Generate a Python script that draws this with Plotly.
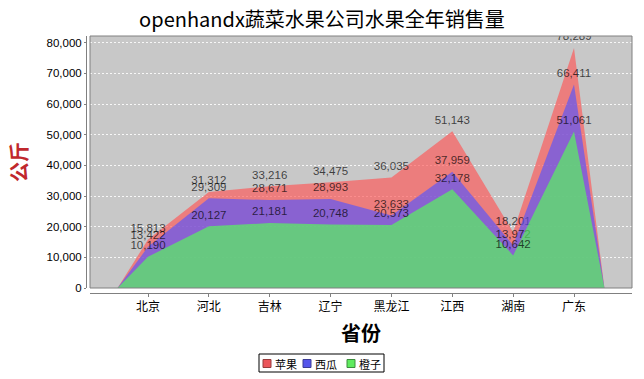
import plotly.graph_objects as go

categories = ["北京", "河北", "吉林", "辽宁", "黑龙江", "江西", "湖南", "广东"]
series_names = ["苹果", "西瓜", "橙子"]
apple = [15813, 31312, 33216, 34475, 36035, 51143, 18201, 78289]
watermelon = [13422, 29309, 28671, 28993, 23633, 37959, 13972, 66411]
orange = [10190, 20127, 21181, 20748, 20573, 32178, 10642, 51061]
y_ticks = [0, 10000, 20000, 30000, 40000, 50000, 60000, 70000, 80000]

series_values = [apple, watermelon, orange]
base_colors = ["rgb(235,85,90)", "rgb(85,85,235)", "rgb(95,235,95)"]
fill_colors = ["rgba(255,85,85,0.65)", "rgba(85,85,255,0.65)", "rgba(85,255,85,0.65)"]
edge_colors = ["rgb(150,60,60)", "rgb(60,60,150)", "rgb(60,140,60)"]

NUM_FONT = "Liberation Sans, Arial, sans-serif"
CJK_FONT = "Noto Sans CJK SC, sans-serif"

W, H = 644, 379
ML, MR, MT, MB = 86, 12, 36, 86
PW, PH = W - ML - MR, H - MT - MB


def px(xp):
    return (xp - ML) / PW


def py(yp):
    return (H - MB - yp) / PH


n = len(categories)
idx = list(range(n))
# taper: area starts/ends at zero half a category outside the first/last category
xs = [-0.5] + idx + [n - 0.5]

fig = go.Figure()
for name, vals, fc in zip(series_names, series_values, fill_colors):
    fig.add_trace(go.Scatter(
        x=xs,
        y=[0] + vals + [0],
        text=[""] + [f"{v:,}" for v in vals] + [""],
        mode="markers+text",
        fill="tozeroy",
        fillcolor=fc,
        line=dict(width=0),
        marker=dict(size=6, color="rgba(0,0,0,0)"),
        textposition="top center",
        textfont=dict(family=NUM_FONT, size=11.5, color="rgba(0,0,0,0.7)"),
        showlegend=False,
        hoverinfo="skip",
        name=name,
    ))

# compact legend box (as in the reference)
shapes = [dict(
    type="rect", xref="x domain", yref="y domain", x0=0, x1=1, y0=0, y1=1,
    line=dict(color="#808080", width=1), layer="above",
)]
shapes.append(dict(
    type="rect", xref="paper", yref="paper",
    x0=px(259), x1=px(384), y0=py(372), y1=py(354),
    line=dict(color="black", width=1), fillcolor="white", layer="above",
))
annotations = []
item_x = [263, 303, 347]
for name, bc, ec, x0 in zip(series_names, base_colors, edge_colors, item_x):
    shapes.append(dict(
        type="rect", xref="paper", yref="paper",
        x0=px(x0), x1=px(x0 + 8), y0=py(367.5), y1=py(359.5),
        line=dict(color=ec, width=1), fillcolor=bc, layer="above",
    ))
    annotations.append(dict(
        text=name, xref="paper", yref="paper", x=px(x0 + 10), y=py(363.5),
        xanchor="left", yanchor="middle", showarrow=False,
        font=dict(family=CJK_FONT, size=11, color="black"),
    ))

fig.update_layout(
    width=W, height=H,
    margin=dict(l=ML, r=MR, t=MT, b=MB),
    paper_bgcolor="white",
    plot_bgcolor="#C8C8C8",
    showlegend=False,
    title=dict(
        text="openhandx蔬菜水果公司水果全年销售量",
        x=0.5, xref="container", xanchor="center",
        y=1 - 20 / H, yref="container", yanchor="middle",
        font=dict(family=CJK_FONT, size=20, color="black"),
    ),
    xaxis=dict(
        domain=[4 / PW, 1], anchor="free", position=0,
        range=[-0.953, 7.953],
        tickmode="array", tickvals=idx, ticktext=categories,
        tickfont=dict(family=CJK_FONT, size=12, color="black"),
        ticks="outside", ticklen=3, tickcolor="#808080",
        showline=True, linecolor="#808080", linewidth=1,
        showgrid=False, zeroline=False,
        title=dict(text="省份", font=dict(family=CJK_FONT, size=20, color="black", weight="bold"), standoff=13),
    ),
    yaxis=dict(
        domain=[5 / PH, 1], anchor="free", position=0,
        range=[0, 78289 * 1.05],
        tickmode="array", tickvals=y_ticks, ticktext=[f"{v:,}" for v in y_ticks],
        tickfont=dict(family=NUM_FONT, size=11.5, color="black"),
        ticks="outside", ticklen=2, tickcolor="#808080",
        showline=True, linecolor="#808080", linewidth=1,
        showgrid=True, gridcolor="rgba(255,255,255,0.85)", griddash="2px,2px", gridwidth=1,
        zeroline=False,
        title=dict(text="公斤", font=dict(family=CJK_FONT, size=20, color="#C0282D", weight="bold"), standoff=12),
    ),
    shapes=shapes,
    annotations=annotations,
)

fig.write_html("out.html")
